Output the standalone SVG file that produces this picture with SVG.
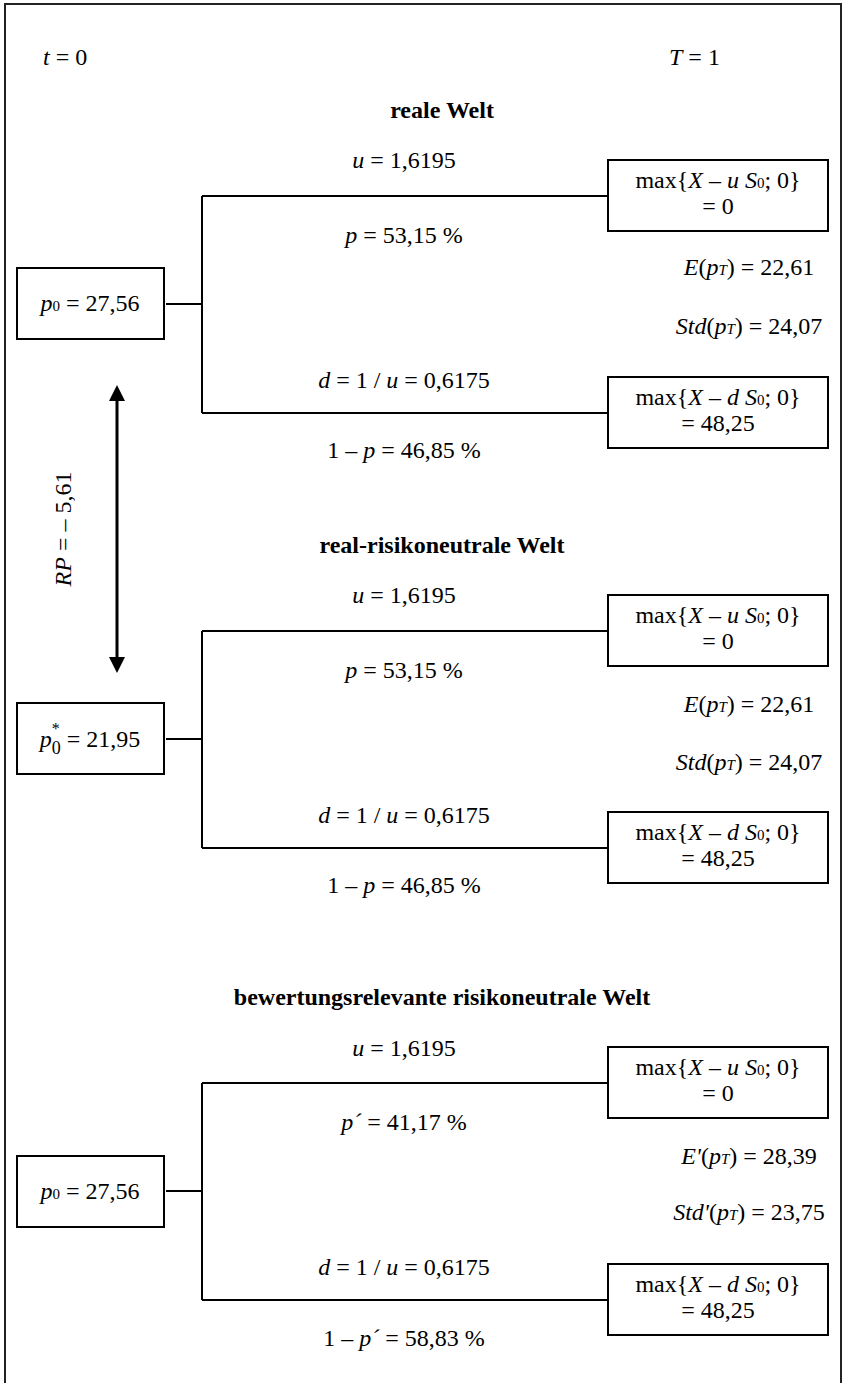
<svg xmlns="http://www.w3.org/2000/svg" width="846" height="1383" viewBox="0 0 846 1383">
<style>
text { font-family: "Liberation Serif", "Times New Roman", serif; font-size: 24px; fill: #000; }
.m { text-anchor: middle; }
.i { font-style: italic; }
.b { font-weight: bold; }
.sb { font-size: 15px; }
.box { fill: #fff; stroke: #000; stroke-width: 2; }
.ln { fill: none; stroke: #000; stroke-width: 2; }
.frame { fill: none; stroke: #222; stroke-width: 2; }
</style>
<defs>
<marker id="ah" viewBox="0 0 10 10" refX="6.9" refY="5" markerUnits="userSpaceOnUse" markerWidth="16" markerHeight="16" orient="auto-start-reverse">
<path d="M0,0 L10,5 L0,10 z" fill="#000"/>
</marker>
</defs>
<rect class="frame" x="5" y="4" width="836" height="1400"/>
<g id="header">
<text x="43" y="65"><tspan class="i">t</tspan> = 0</text>
<text x="669" y="65"><tspan class="i">T</tspan> = 1</text>
</g>
<g id="connectors">
<path class="ln" d="M166,304 H202 M202,196 V413 M202,196 H608 M202,413 H608"/>
<path class="ln" d="M166,739 H202 M202,631 V848 M202,631 H608 M202,848 H608"/>
<path class="ln" d="M166,1191 H202 M202,1083 V1300 M202,1083 H608 M202,1300 H608"/>
<line x1="117" y1="390" x2="117" y2="668" stroke="#000" stroke-width="3" marker-start="url(#ah)" marker-end="url(#ah)"/>
</g>
<g id="rp-label">
<text class="m" transform="translate(71,529) rotate(-90)"><tspan class="i">RP</tspan> = – 5,61</text>
</g>
<!-- Section 1: reale Welt -->
<g id="sec1-labels">
<text class="m b" x="442" y="118">reale Welt</text>
<text class="m" x="404" y="168"><tspan class="i">u</tspan> = 1,6195</text>
<text class="m" x="404" y="243"><tspan class="i">p</tspan> = 53,15 %</text>
<text class="m" x="404" y="388"><tspan class="i">d</tspan> = 1 / <tspan class="i">u</tspan> = 0,6175</text>
<text class="m" x="404" y="458">1 – <tspan class="i">p</tspan> = 46,85 %</text>
<text class="m" x="749" y="275"><tspan class="i">E</tspan>(<tspan class="i">p</tspan><tspan class="i sb">T</tspan>) = 22,61</text>
<text class="m" x="749" y="334"><tspan class="i">Std</tspan>(<tspan class="i">p</tspan><tspan class="i sb">T</tspan>) = 24,07</text>
</g>
<g id="sec1-root">
<rect class="box" x="17" y="268" width="147" height="71"/>
<text class="m" x="90" y="311"><tspan class="i">p</tspan><tspan class="sb">0</tspan> = 27,56</text>
</g>
<g id="sec1-up">
<rect class="box" x="608" y="160" width="220" height="71"/>
<text class="m" x="718" y="188">max{<tspan class="i">X</tspan> – <tspan class="i">u S</tspan><tspan class="sb">0</tspan>; 0}</text>
<text class="m" x="718" y="214">= 0</text>
</g>
<g id="sec1-down">
<rect class="box" x="608" y="377" width="220" height="71"/>
<text class="m" x="718" y="405">max{<tspan class="i">X</tspan> – <tspan class="i">d S</tspan><tspan class="sb">0</tspan>; 0}</text>
<text class="m" x="718" y="431">= 48,25</text>
</g>
<!-- Section 2: real-risikoneutrale Welt -->
<g id="sec2-labels">
<text class="m b" x="442" y="553">real-risikoneutrale Welt</text>
<text class="m" x="404" y="603"><tspan class="i">u</tspan> = 1,6195</text>
<text class="m" x="404" y="678"><tspan class="i">p</tspan> = 53,15 %</text>
<text class="m" x="404" y="823"><tspan class="i">d</tspan> = 1 / <tspan class="i">u</tspan> = 0,6175</text>
<text class="m" x="404" y="893">1 – <tspan class="i">p</tspan> = 46,85 %</text>
<text class="m" x="749" y="712"><tspan class="i">E</tspan>(<tspan class="i">p</tspan><tspan class="i sb">T</tspan>) = 22,61</text>
<text class="m" x="749" y="770"><tspan class="i">Std</tspan>(<tspan class="i">p</tspan><tspan class="i sb">T</tspan>) = 24,07</text>
</g>
<g id="sec2-root">
<rect class="box" x="17" y="703" width="147" height="71"/>
<text class="m" x="90" y="747"><tspan class="i">p</tspan><tspan font-size="16" dy="-13">*</tspan><tspan font-size="18" dx="-8" dy="20">0</tspan><tspan dy="-7"> = 21,95</tspan></text>
</g>
<g id="sec2-up">
<rect class="box" x="608" y="595" width="220" height="71"/>
<text class="m" x="718" y="623">max{<tspan class="i">X</tspan> – <tspan class="i">u S</tspan><tspan class="sb">0</tspan>; 0}</text>
<text class="m" x="718" y="649">= 0</text>
</g>
<g id="sec2-down">
<rect class="box" x="608" y="812" width="220" height="71"/>
<text class="m" x="718" y="840">max{<tspan class="i">X</tspan> – <tspan class="i">d S</tspan><tspan class="sb">0</tspan>; 0}</text>
<text class="m" x="718" y="866">= 48,25</text>
</g>
<!-- Section 3: bewertungsrelevante risikoneutrale Welt -->
<g id="sec3-labels">
<text class="m b" x="442" y="1005">bewertungsrelevante risikoneutrale Welt</text>
<text class="m" x="404" y="1056"><tspan class="i">u</tspan> = 1,6195</text>
<text class="m" x="404" y="1130"><tspan class="i">p´</tspan> = 41,17 %</text>
<text class="m" x="404" y="1275"><tspan class="i">d</tspan> = 1 / <tspan class="i">u</tspan> = 0,6175</text>
<text class="m" x="404" y="1346">1 – <tspan class="i">p´</tspan> = 58,83 %</text>
<text class="m" x="749" y="1164"><tspan class="i">E'</tspan>(<tspan class="i">p</tspan><tspan class="i sb">T</tspan>) = 28,39</text>
<text class="m" x="749" y="1220"><tspan class="i">Std'</tspan>(<tspan class="i">p</tspan><tspan class="i sb">T</tspan>) = 23,75</text>
</g>
<g id="sec3-root">
<rect class="box" x="17" y="1156" width="147" height="71"/>
<text class="m" x="90" y="1199"><tspan class="i">p</tspan><tspan class="sb">0</tspan> = 27,56</text>
</g>
<g id="sec3-up">
<rect class="box" x="608" y="1047" width="220" height="71"/>
<text class="m" x="718" y="1075">max{<tspan class="i">X</tspan> – <tspan class="i">u S</tspan><tspan class="sb">0</tspan>; 0}</text>
<text class="m" x="718" y="1101">= 0</text>
</g>
<g id="sec3-down">
<rect class="box" x="608" y="1264" width="220" height="71"/>
<text class="m" x="718" y="1292">max{<tspan class="i">X</tspan> – <tspan class="i">d S</tspan><tspan class="sb">0</tspan>; 0}</text>
<text class="m" x="718" y="1318">= 48,25</text>
</g>
</svg>
